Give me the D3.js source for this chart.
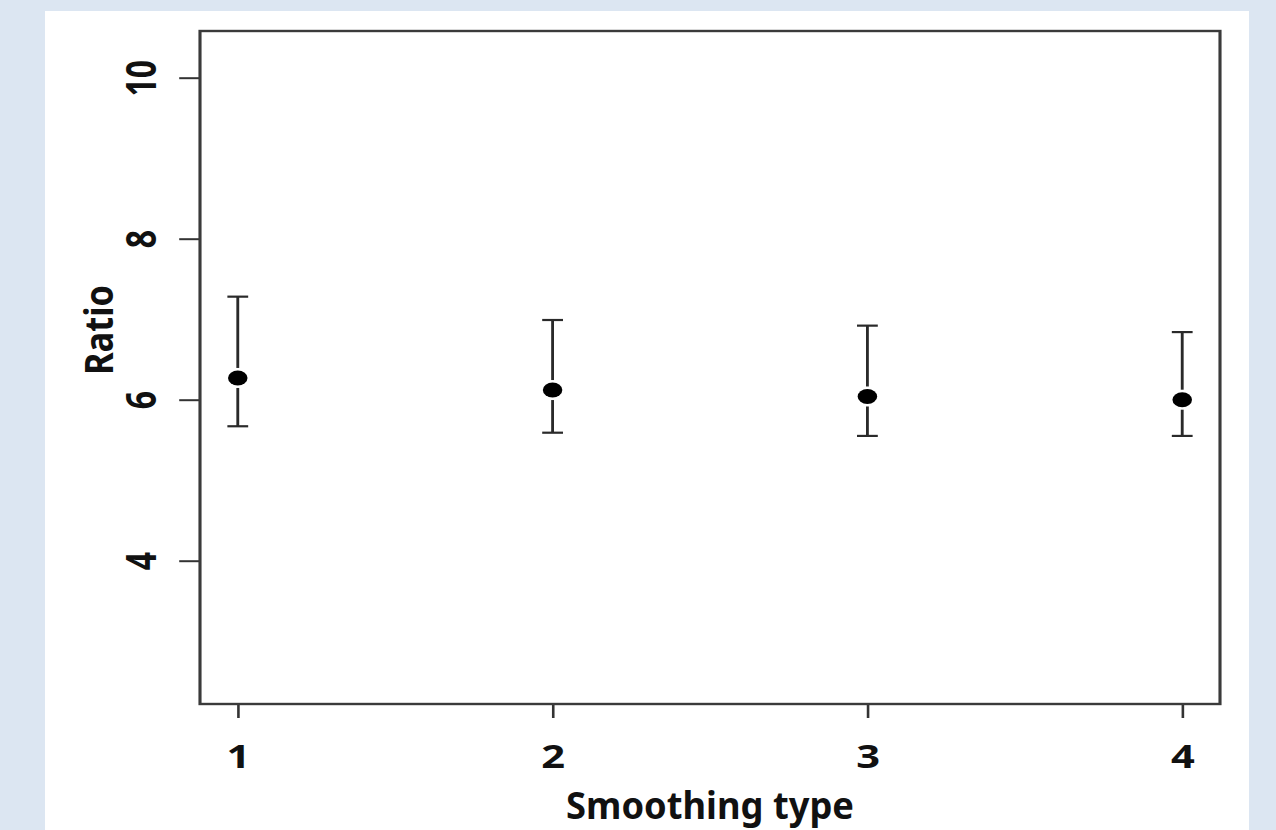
<!DOCTYPE html>
<html>
<head>
<meta charset="utf-8">
<script src="https://cdn.jsdelivr.net/npm/d3@7"></script>
<style>
  html, body { margin: 0; padding: 0; background: #dce6f2; overflow: hidden; }
  svg { display: block; }
  text { font-family: "Noto Sans", "DejaVu Sans", sans-serif; font-weight: 700; fill: #111; }
</style>
</head>
<body>
<svg id="chart"></svg>
<script>
// Smoothing types and the mean ratio with its interval
const types = [1, 2, 3, 4];
const ratioMean = [6.27, 6.12, 6.04, 6.0];
const ratioUpper = [7.28, 6.99, 6.92, 6.84];
const ratioLower = [5.67, 5.59, 5.55, 5.55];
const yTicks = [4, 6, 8, 10];

const data = types.map((t, i) => ({
  type: t,
  mean: ratioMean[i],
  hi: ratioUpper[i],
  lo: ratioLower[i],
}));

// the picture is stretched sideways, so draw in narrower units and let the viewBox stretch it
const stretch = 1.3;
const width = 1276, height = 830;
const vbW = width / stretch;

const svg = d3.select("#chart")
  .attr("width", width)
  .attr("height", height)
  .attr("viewBox", `0 0 ${vbW} ${height}`)
  .attr("preserveAspectRatio", "none");

// white panel
svg.append("rect")
  .attr("x", 45 / stretch)
  .attr("y", 11)
  .attr("width", (1249 - 45) / stretch)
  .attr("height", height)
  .attr("fill", "#fff");

const plot = { left: 200 / stretch, right: 1220 / stretch, top: 31, bottom: 704 };

const x = d3.scaleLinear().domain([0.88, 4.12]).range([plot.left, plot.right]);
const y = d3.scaleLinear().domain([2.22, 10.58]).range([plot.bottom, plot.top]);

// Y axis
const yAxis = svg.append("g")
  .attr("transform", `translate(${plot.left},0)`)
  .call(d3.axisLeft(y).tickValues(yTicks).tickSize(16).tickFormat(d3.format("d")));
yAxis.select(".domain").remove();
yAxis.selectAll("line").attr("stroke", "#333").attr("stroke-width", 2);
yAxis.selectAll("text")
  .attr("x", 0)
  .attr("y", -34)
  .attr("dy", 0)
  .attr("transform", "rotate(-90)")
  .attr("text-anchor", "middle")
  .style("font-size", "32px");

// X axis
const xAxis = svg.append("g")
  .attr("transform", `translate(0,${plot.bottom})`)
  .call(d3.axisBottom(x).tickValues(types).tickSize(14).tickFormat(d3.format("d")));
xAxis.select(".domain").remove();
xAxis.selectAll("line").attr("stroke", "#333").attr("stroke-width", 2);
xAxis.selectAll("text")
  .attr("y", 64)
  .attr("dy", 0)
  .style("font-size", "32px");

// box
svg.append("rect")
  .attr("x", plot.left)
  .attr("y", plot.top)
  .attr("width", plot.right - plot.left)
  .attr("height", plot.bottom - plot.top)
  .attr("fill", "none")
  .attr("stroke", "#3a3a3a")
  .attr("stroke-width", 2.4);

// axis titles
svg.append("text")
  .attr("x", (plot.left + plot.right) / 2)
  .attr("y", 819)
  .attr("text-anchor", "middle")
  .attr("textLength", 288 / stretch)
  .attr("lengthAdjust", "spacingAndGlyphs")
  .style("font-size", "38px")
  .text("Smoothing type");

svg.append("text")
  .attr("transform", `translate(${113 / stretch},330) rotate(-90)`)
  .attr("text-anchor", "middle")
  .attr("textLength", 90)
  .attr("lengthAdjust", "spacingAndGlyphs")
  .style("font-size", "30px")
  .text("Ratio");

// error bars with a gap around the point
const cap = 8;
const gap = 10;
const bars = svg.append("g").attr("stroke", "#2a2a2a").attr("stroke-width", 2.2);

bars.selectAll(".upper")
  .data(data)
  .join("line")
  .attr("class", "upper")
  .attr("x1", (d) => x(d.type))
  .attr("x2", (d) => x(d.type))
  .attr("y1", (d) => y(d.hi))
  .attr("y2", (d) => y(d.mean) - gap);

bars.selectAll(".lower")
  .data(data)
  .join("line")
  .attr("class", "lower")
  .attr("x1", (d) => x(d.type))
  .attr("x2", (d) => x(d.type))
  .attr("y1", (d) => y(d.mean) + gap)
  .attr("y2", (d) => y(d.lo));

bars.selectAll(".cap-hi")
  .data(data)
  .join("line")
  .attr("class", "cap-hi")
  .attr("x1", (d) => x(d.type) - cap)
  .attr("x2", (d) => x(d.type) + cap)
  .attr("y1", (d) => y(d.hi))
  .attr("y2", (d) => y(d.hi));

bars.selectAll(".cap-lo")
  .data(data)
  .join("line")
  .attr("class", "cap-lo")
  .attr("x1", (d) => x(d.type) - cap)
  .attr("x2", (d) => x(d.type) + cap)
  .attr("y1", (d) => y(d.lo))
  .attr("y2", (d) => y(d.lo));

// points
svg.selectAll(".dot")
  .data(data)
  .join("circle")
  .attr("class", "dot")
  .attr("cx", (d) => x(d.type))
  .attr("cy", (d) => y(d.mean))
  .attr("r", 7.5)
  .attr("fill", "#000");
</script>
</body>
</html>
